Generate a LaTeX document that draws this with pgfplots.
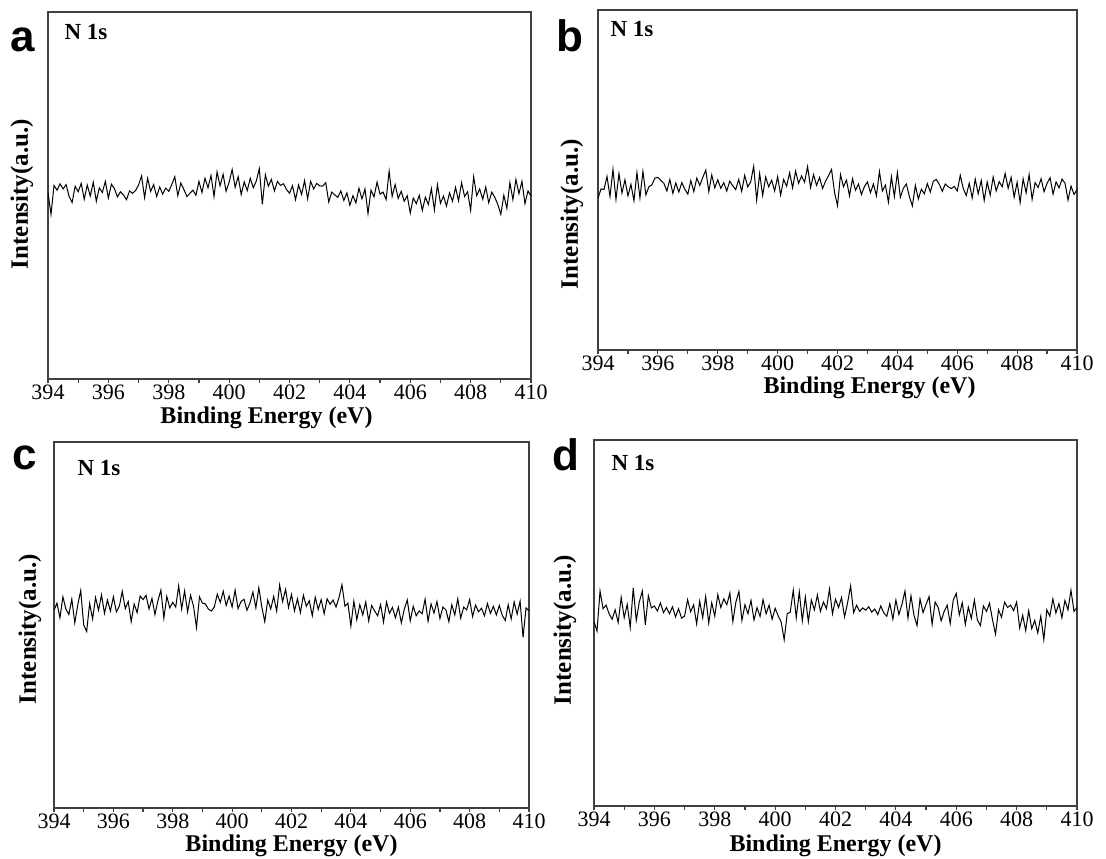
\documentclass[border=0pt]{standalone}
\usepackage{fontspec}
\setmainfont{Liberation Serif}
\newfontfamily\arialfont{Liberation Sans}
\usepackage{pgfplots}
\pgfplotsset{compat=1.18}
\pgfplotsset{
  xpspanel/.style={
    anchor=south west, scale only axis,
    xmin=394, xmax=410, ymin=0, ymax=100,
    xtick={394,396,...,410}, minor xtick={395,397,...,409},
    xtick pos=bottom, ytick=\empty,
    tick align=outside, major tick length=2pt, minor tick length=2pt,
    axis line style={black!75, line width=0.7pt},
    every tick/.style={black!75, line width=0.6pt},
    /pgf/number format/assume math mode=true,
    xticklabel style={font=\fontsize{11}{11}\selectfont, anchor=north, inner sep=0pt,
      text height=8pt, text depth=0pt},
    xlabel={\textbf{Binding Energy (eV)}},
    label style={font=\fontsize{12}{12}\selectfont, inner sep=0pt},
    xlabel style={at={(axis description cs:0.5,0)}, anchor=center},
  },
  curve/.style={black, line width=0.5pt, mark=none},
}
\begin{document}
\begin{tikzpicture}
\useasboundingbox (0,0) rectangle (553pt,429pt);
% ---------------- panel a
\begin{axis}[xpspanel, at={(24pt,239.5pt)}, width=241.5pt, height=183.5pt, ymax=92.5,
  xlabel style={yshift=-19.5pt, xshift=-11.5pt}]
\addplot[curve] table[row sep=\\] {x y\\
394.0 47.0\\ 394.1 41.5\\ 394.2 48.8\\ 394.3 47.6\\ 394.4 49.2\\ 394.5 47.9\\ 394.6 49.0\\ 394.7 46.0\\ 394.8 44.5\\ 394.9 48.6\\
395.0 47.2\\ 395.1 49.3\\ 395.2 45.3\\ 395.3 48.9\\ 395.4 46.1\\ 395.5 49.6\\ 395.6 44.8\\ 395.7 48.2\\ 395.8 47.0\\ 395.9 49.8\\
396.0 45.6\\ 396.1 49.1\\ 396.2 48.0\\ 396.3 45.9\\ 396.4 47.2\\ 396.5 46.4\\ 396.6 45.2\\ 396.7 47.4\\ 396.8 46.8\\ 396.9 47.5\\
397.0 48.9\\ 397.1 51.2\\ 397.2 45.7\\ 397.3 50.6\\ 397.4 47.3\\ 397.5 49.0\\ 397.6 46.0\\ 397.7 48.4\\ 397.8 46.6\\ 397.9 48.1\\
398.0 47.3\\ 398.1 49.0\\ 398.2 51.0\\ 398.3 46.2\\ 398.4 49.4\\ 398.5 47.8\\ 398.6 46.0\\ 398.7 46.8\\ 398.8 47.6\\ 398.9 46.3\\
399.0 49.8\\ 399.1 47.0\\ 399.2 50.6\\ 399.3 48.2\\ 399.4 51.3\\ 399.5 46.0\\ 399.6 52.2\\ 399.7 48.7\\ 399.8 51.6\\ 399.9 47.3\\
400.0 49.6\\ 400.1 52.8\\ 400.2 48.3\\ 400.3 51.0\\ 400.4 46.5\\ 400.5 49.7\\ 400.6 47.5\\ 400.7 50.6\\ 400.8 48.2\\ 400.9 49.9\\
401.0 53.0\\ 401.1 44.0\\ 401.2 51.5\\ 401.3 48.6\\ 401.4 50.3\\ 401.5 47.4\\ 401.6 49.8\\ 401.7 48.8\\ 401.8 49.2\\ 401.9 47.8\\
402.0 46.8\\ 402.1 48.7\\ 402.2 45.2\\ 402.3 48.9\\ 402.4 46.5\\ 402.5 50.0\\ 402.6 45.4\\ 402.7 49.8\\ 402.8 47.9\\ 402.9 49.3\\
403.0 48.7\\ 403.1 48.6\\ 403.2 49.5\\ 403.3 44.6\\ 403.4 47.1\\ 403.5 46.4\\ 403.6 45.8\\ 403.7 47.4\\ 403.8 45.0\\ 403.9 46.9\\
404.0 43.8\\ 404.1 46.2\\ 404.2 44.4\\ 404.3 48.1\\ 404.4 45.4\\ 404.5 47.9\\ 404.6 41.7\\ 404.7 47.6\\ 404.8 45.9\\ 404.9 49.6\\
405.0 46.6\\ 405.1 47.1\\ 405.2 45.2\\ 405.3 52.4\\ 405.4 46.0\\ 405.5 49.0\\ 405.6 45.5\\ 405.7 47.3\\ 405.8 44.8\\ 405.9 46.2\\
406.0 41.8\\ 406.1 45.6\\ 406.2 44.2\\ 406.3 46.3\\ 406.4 42.5\\ 406.5 45.8\\ 406.6 44.0\\ 406.7 48.0\\ 406.8 42.6\\ 406.9 49.0\\
407.0 44.3\\ 407.1 46.1\\ 407.2 43.6\\ 407.3 46.9\\ 407.4 44.8\\ 407.5 48.3\\ 407.6 44.9\\ 407.7 49.5\\ 407.8 46.0\\ 407.9 47.2\\
408.0 42.5\\ 408.1 51.0\\ 408.2 46.2\\ 408.3 47.9\\ 408.4 45.3\\ 408.5 48.4\\ 408.6 44.4\\ 408.7 47.1\\ 408.8 45.8\\ 408.9 44.0\\
409.0 41.5\\ 409.1 46.3\\ 409.2 43.0\\ 409.3 49.5\\ 409.4 45.2\\ 409.5 50.3\\ 409.6 46.7\\ 409.7 49.8\\ 409.8 44.2\\ 409.9 47.4\\
410.0 46.1\\
};
\end{axis}
% ---------------- panel b
\begin{axis}[xpspanel, at={(299pt,254pt)}, width=239.5pt, height=170pt, ymax=97.5,
  xlabel style={yshift=-19pt, xshift=16pt}]
\addplot[curve] table[row sep=\\] {x y\\
394.0 43.5\\ 394.1 46.2\\ 394.2 46.0\\ 394.3 49.8\\ 394.4 44.0\\ 394.5 51.8\\ 394.6 43.2\\ 394.7 50.6\\ 394.8 45.0\\ 394.9 48.8\\
395.0 44.2\\ 395.1 47.5\\ 395.2 42.8\\ 395.3 50.9\\ 395.4 43.6\\ 395.5 51.2\\ 395.6 44.5\\ 395.7 46.8\\ 395.8 47.4\\ 395.9 49.3\\
396.0 49.5\\ 396.1 48.6\\ 396.2 47.8\\ 396.3 45.6\\ 396.4 48.9\\ 396.5 44.9\\ 396.6 47.9\\ 396.7 45.3\\ 396.8 48.0\\ 396.9 46.1\\
397.0 44.7\\ 397.1 48.6\\ 397.2 45.4\\ 397.3 49.3\\ 397.4 47.2\\ 397.5 49.5\\ 397.6 51.6\\ 397.7 45.4\\ 397.8 50.2\\ 397.9 46.5\\
398.0 48.8\\ 398.1 46.4\\ 398.2 48.0\\ 398.3 45.6\\ 398.4 48.4\\ 398.5 47.1\\ 398.6 46.0\\ 398.7 48.9\\ 398.8 45.5\\ 398.9 50.1\\
399.0 46.8\\ 399.1 48.2\\ 399.2 52.7\\ 399.3 43.0\\ 399.4 50.6\\ 399.5 44.3\\ 399.6 49.6\\ 399.7 46.8\\ 399.8 48.7\\ 399.9 45.6\\
400.0 49.7\\ 400.1 44.4\\ 400.2 48.9\\ 400.3 47.0\\ 400.4 50.8\\ 400.5 46.5\\ 400.6 51.3\\ 400.7 47.8\\ 400.8 49.9\\ 400.9 48.1\\
401.0 52.6\\ 401.1 46.6\\ 401.2 50.3\\ 401.3 47.2\\ 401.4 49.5\\ 401.5 46.3\\ 401.6 48.4\\ 401.7 50.0\\ 401.8 51.8\\ 401.9 45.2\\
402.0 41.4\\ 402.1 50.3\\ 402.2 46.8\\ 402.3 48.7\\ 402.4 44.2\\ 402.5 49.1\\ 402.6 45.8\\ 402.7 47.6\\ 402.8 44.6\\ 402.9 46.9\\
403.0 48.2\\ 403.1 45.1\\ 403.2 47.6\\ 403.3 44.2\\ 403.4 51.2\\ 403.5 45.6\\ 403.6 47.3\\ 403.7 42.4\\ 403.8 49.7\\ 403.9 44.0\\
404.0 50.9\\ 404.1 43.8\\ 404.2 46.4\\ 404.3 47.6\\ 404.4 44.0\\ 404.5 41.3\\ 404.6 47.2\\ 404.7 43.3\\ 404.8 46.1\\ 404.9 44.8\\
405.0 47.7\\ 405.1 45.3\\ 405.2 48.4\\ 405.3 48.9\\ 405.4 47.5\\ 405.5 45.5\\ 405.6 47.6\\ 405.7 46.8\\ 405.8 46.3\\ 405.9 46.9\\
406.0 45.6\\ 406.1 50.1\\ 406.2 46.3\\ 406.3 44.3\\ 406.4 47.8\\ 406.5 43.6\\ 406.6 49.0\\ 406.7 44.8\\ 406.8 48.6\\ 406.9 42.9\\
407.0 48.2\\ 407.1 44.4\\ 407.2 49.6\\ 407.3 45.6\\ 407.4 48.3\\ 407.5 46.8\\ 407.6 50.6\\ 407.7 46.4\\ 407.8 49.5\\ 407.9 43.8\\
408.0 48.1\\ 408.1 42.3\\ 408.2 49.1\\ 408.3 45.1\\ 408.4 50.3\\ 408.5 43.2\\ 408.6 48.0\\ 408.7 46.6\\ 408.8 49.1\\ 408.9 45.4\\
409.0 47.8\\ 409.1 49.4\\ 409.2 44.7\\ 409.3 48.2\\ 409.4 46.5\\ 409.5 49.0\\ 409.6 47.8\\ 409.7 43.0\\ 409.8 47.0\\ 409.9 44.6\\
410.0 46.0\\
};
\end{axis}
% ---------------- panel c
\begin{axis}[xpspanel, at={(27pt,25pt)}, width=237.5pt, height=183pt, ymax=92.9,
  xlabel style={yshift=-19pt}]
\addplot[curve] table[row sep=\\] {x y\\
394.0 50.2\\ 394.1 52.0\\ 394.2 48.3\\ 394.3 53.6\\ 394.4 50.5\\ 394.5 49.1\\ 394.6 53.0\\ 394.7 47.0\\ 394.8 51.5\\ 394.9 55.2\\
395.0 46.5\\ 395.1 44.8\\ 395.2 51.9\\ 395.3 48.0\\ 395.4 53.4\\ 395.5 50.2\\ 395.6 54.1\\ 395.7 49.4\\ 395.8 52.8\\ 395.9 50.0\\
396.0 53.6\\ 396.1 49.8\\ 396.2 51.2\\ 396.3 55.0\\ 396.4 50.6\\ 396.5 52.4\\ 396.6 47.3\\ 396.7 51.8\\ 396.8 49.6\\ 396.9 53.8\\
397.0 52.9\\ 397.1 54.0\\ 397.2 50.5\\ 397.3 53.2\\ 397.4 49.1\\ 397.5 52.6\\ 397.6 55.3\\ 397.7 48.2\\ 397.8 53.7\\ 397.9 50.8\\
398.0 52.2\\ 398.1 51.0\\ 398.2 56.4\\ 398.3 50.5\\ 398.4 55.1\\ 398.5 49.8\\ 398.6 54.0\\ 398.7 51.2\\ 398.8 45.8\\ 398.9 53.6\\
399.0 52.0\\ 399.1 51.8\\ 399.2 50.5\\ 399.3 50.0\\ 399.4 51.0\\ 399.5 54.3\\ 399.6 52.2\\ 399.7 55.0\\ 399.8 51.4\\ 399.9 53.8\\
400.0 51.0\\ 400.1 55.3\\ 400.2 50.6\\ 400.3 52.4\\ 400.4 53.0\\ 400.5 50.2\\ 400.6 52.0\\ 400.7 54.8\\ 400.8 50.8\\ 400.9 55.9\\
401.0 51.0\\ 401.1 47.3\\ 401.2 52.8\\ 401.3 50.5\\ 401.4 53.7\\ 401.5 50.0\\ 401.6 56.6\\ 401.7 52.4\\ 401.8 55.5\\ 401.9 50.9\\
402.0 54.2\\ 402.1 50.0\\ 402.2 53.1\\ 402.3 49.6\\ 402.4 54.0\\ 402.5 51.2\\ 402.6 52.6\\ 402.7 48.8\\ 402.8 53.5\\ 402.9 50.4\\
403.0 52.9\\ 403.1 49.3\\ 403.2 53.1\\ 403.3 51.7\\ 403.4 52.8\\ 403.5 51.0\\ 403.6 53.4\\ 403.7 56.7\\ 403.8 51.2\\ 403.9 52.0\\
404.0 46.2\\ 404.1 52.5\\ 404.2 47.8\\ 404.3 51.6\\ 404.4 49.0\\ 404.5 52.3\\ 404.6 47.5\\ 404.7 51.4\\ 404.8 50.0\\ 404.9 48.8\\
405.0 51.6\\ 405.1 47.2\\ 405.2 52.3\\ 405.3 49.4\\ 405.4 50.9\\ 405.5 48.3\\ 405.6 51.0\\ 405.7 47.0\\ 405.8 50.5\\ 405.9 52.8\\
406.0 47.5\\ 406.1 51.2\\ 406.2 48.8\\ 406.3 50.0\\ 406.4 49.3\\ 406.5 53.0\\ 406.6 47.4\\ 406.7 51.8\\ 406.8 49.5\\ 406.9 52.4\\
407.0 48.1\\ 407.1 51.0\\ 407.2 50.3\\ 407.3 47.3\\ 407.4 51.6\\ 407.5 49.0\\ 407.6 53.1\\ 407.7 48.2\\ 407.8 51.0\\ 407.9 50.3\\
408.0 52.9\\ 408.1 48.6\\ 408.2 51.5\\ 408.3 49.8\\ 408.4 50.7\\ 408.5 48.8\\ 408.6 51.9\\ 408.7 49.4\\ 408.8 51.2\\ 408.9 49.0\\
409.0 51.4\\ 409.1 48.9\\ 409.2 47.6\\ 409.3 51.6\\ 409.4 48.0\\ 409.5 52.3\\ 409.6 49.2\\ 409.7 52.5\\ 409.8 43.3\\ 409.9 50.8\\
410.0 50.0\\
};
\end{axis}
% ---------------- panel d
\begin{axis}[xpspanel, at={(297pt,26pt)}, width=241.5pt, height=183pt, ymax=93.3,
  xlabel style={yshift=-20pt}]
\addplot[curve] table[row sep=\\] {x y\\
394.0 47.0\\ 394.1 44.6\\ 394.2 54.8\\ 394.3 50.3\\ 394.4 51.2\\ 394.5 49.0\\ 394.6 47.6\\ 394.7 50.0\\ 394.8 46.8\\ 394.9 53.2\\
395.0 48.0\\ 395.1 51.4\\ 395.2 45.5\\ 395.3 55.6\\ 395.4 47.3\\ 395.5 52.0\\ 395.6 54.8\\ 395.7 46.2\\ 395.8 53.6\\ 395.9 50.5\\
396.0 51.0\\ 396.1 49.7\\ 396.2 51.8\\ 396.3 49.3\\ 396.4 50.6\\ 396.5 49.0\\ 396.6 50.8\\ 396.7 48.2\\ 396.8 50.3\\ 396.9 47.9\\
397.0 48.4\\ 397.1 52.6\\ 397.2 49.5\\ 397.3 51.3\\ 397.4 46.4\\ 397.5 52.2\\ 397.6 48.0\\ 397.7 53.4\\ 397.8 46.6\\ 397.9 51.8\\
398.0 48.4\\ 398.1 53.9\\ 398.2 50.6\\ 398.3 52.8\\ 398.4 51.3\\ 398.5 54.3\\ 398.6 47.0\\ 398.7 52.0\\ 398.8 54.7\\ 398.9 47.3\\
399.0 51.3\\ 399.1 49.0\\ 399.2 52.4\\ 399.3 47.4\\ 399.4 50.6\\ 399.5 48.3\\ 399.6 52.6\\ 399.7 49.0\\ 399.8 51.2\\ 399.9 47.6\\
400.0 50.4\\ 400.1 48.5\\ 400.2 46.9\\ 400.3 42.4\\ 400.4 49.0\\ 400.5 49.4\\ 400.6 55.0\\ 400.7 48.0\\ 400.8 54.6\\ 400.9 47.2\\
401.0 53.3\\ 401.1 47.0\\ 401.2 52.5\\ 401.3 50.0\\ 401.4 53.8\\ 401.5 49.6\\ 401.6 52.0\\ 401.7 50.3\\ 401.8 55.3\\ 401.9 49.0\\
402.0 52.7\\ 402.1 50.6\\ 402.2 53.1\\ 402.3 48.2\\ 402.4 51.8\\ 402.5 56.1\\ 402.6 49.3\\ 402.7 51.2\\ 402.8 49.6\\ 402.9 50.5\\
403.0 49.9\\ 403.1 50.8\\ 403.2 49.4\\ 403.3 50.2\\ 403.4 48.8\\ 403.5 51.0\\ 403.6 49.2\\ 403.7 48.4\\ 403.8 51.6\\ 403.9 47.6\\
404.0 52.5\\ 404.1 48.8\\ 404.2 51.4\\ 404.3 54.8\\ 404.4 47.9\\ 404.5 53.6\\ 404.6 48.6\\ 404.7 46.0\\ 404.8 52.8\\ 404.9 49.3\\
405.0 51.4\\ 405.1 53.4\\ 405.2 46.3\\ 405.3 52.0\\ 405.4 50.6\\ 405.5 47.2\\ 405.6 49.6\\ 405.7 51.2\\ 405.8 46.5\\ 405.9 52.5\\
406.0 54.2\\ 406.1 48.7\\ 406.2 51.8\\ 406.3 46.3\\ 406.4 50.7\\ 406.5 47.8\\ 406.6 52.5\\ 406.7 47.4\\ 406.8 46.0\\ 406.9 51.0\\
407.0 49.6\\ 407.1 51.7\\ 407.2 47.5\\ 407.3 43.8\\ 407.4 50.0\\ 407.5 48.1\\ 407.6 52.0\\ 407.7 50.6\\ 407.8 51.2\\ 407.9 49.8\\
408.0 52.0\\ 408.1 45.4\\ 408.2 48.6\\ 408.3 44.7\\ 408.4 49.8\\ 408.5 45.2\\ 408.6 47.3\\ 408.7 44.1\\ 408.8 48.4\\ 408.9 42.4\\
409.0 50.0\\ 409.1 48.4\\ 409.2 52.8\\ 409.3 49.2\\ 409.4 51.6\\ 409.5 48.0\\ 409.6 52.4\\ 409.7 50.0\\ 409.8 55.0\\ 409.9 49.6\\
410.0 50.6\\
};
\end{axis}
% ---------------- panel letters, N 1s and y labels
\begin{scope}[every node/.style={inner sep=0pt}]
\node[font=\arialfont\bfseries\fontsize{22}{22}\selectfont, anchor=base] at (11.5pt,403pt) {a};
\node[font=\arialfont\bfseries\fontsize{22}{22}\selectfont, anchor=base] at (285pt,403pt) {b};
\node[font=\arialfont\bfseries\fontsize{22}{22}\selectfont, anchor=base] at (12.5pt,194.5pt) {c};
\node[font=\arialfont\bfseries\fontsize{22}{22}\selectfont, anchor=base] at (283pt,194pt) {d};
\node[font=\bfseries\fontsize{11.5}{11.5}\selectfont, anchor=base] at (43pt,409pt) {N 1s};
\node[font=\bfseries\fontsize{11.5}{11.5}\selectfont, anchor=base] at (316pt,410.5pt) {N 1s};
\node[font=\bfseries\fontsize{11.5}{11.5}\selectfont, anchor=base] at (49.5pt,191.5pt) {N 1s};
\node[font=\bfseries\fontsize{11.5}{11.5}\selectfont, anchor=base] at (316.5pt,194pt) {N 1s};
\node[font=\bfseries\fontsize{12.5}{12.5}\selectfont, rotate=90] at (11pt,332pt) {Intensity(a.u.)};
\node[font=\bfseries\fontsize{12.5}{12.5}\selectfont, rotate=90] at (286pt,322pt) {Intensity(a.u.)};
\node[font=\bfseries\fontsize{12.5}{12.5}\selectfont, rotate=90] at (15pt,114.5pt) {Intensity(a.u.)};
\node[font=\bfseries\fontsize{12.5}{12.5}\selectfont, rotate=90] at (282.5pt,114pt) {Intensity(a.u.)};
\end{scope}
\end{tikzpicture}
\end{document}
